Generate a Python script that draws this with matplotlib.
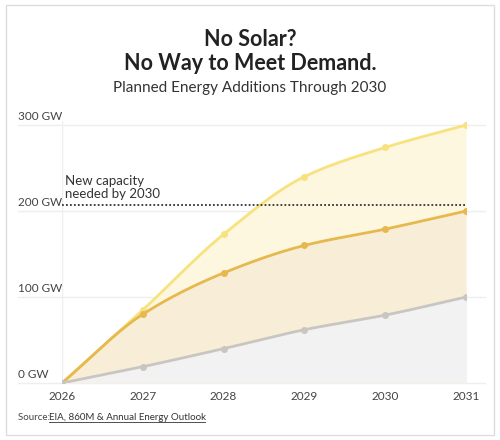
import numpy as np
import matplotlib.pyplot as plt
from matplotlib.patches import Rectangle

years = [2026, 2027, 2028, 2029, 2030, 2031]
with_solar = [0, 85, 173, 240, 274, 300]
mid_series = [0, 80, 128, 160, 179, 200]
base_series = [0, 19, 40, 62, 79, 100]
needed = 207
yticks = [0, 100, 200, 300]


def pchip(x, y, n=200):
    # monotone cubic for smooth lines through the points
    x = np.asarray(x, float); y = np.asarray(y, float)
    h = np.diff(x); d = np.diff(y) / h
    m = np.zeros_like(y)
    for i in range(1, len(x) - 1):
        if d[i - 1] * d[i] > 0:
            w1 = 2 * h[i] + h[i - 1]; w2 = h[i] + 2 * h[i - 1]
            m[i] = (w1 + w2) / (w1 / d[i - 1] + w2 / d[i])
    m[0] = d[0]; m[-1] = d[-1]
    xs = np.linspace(x[0], x[-1], n)
    idx = np.clip(np.searchsorted(x, xs) - 1, 0, len(x) - 2)
    t = (xs - x[idx]) / h[idx]
    h00 = 2*t**3 - 3*t**2 + 1; h10 = t**3 - 2*t**2 + t
    h01 = -2*t**3 + 3*t**2; h11 = t**3 - t**2
    ys = h00*y[idx] + h10*h[idx]*m[idx] + h01*y[idx+1] + h11*h[idx]*m[idx+1]
    return xs, ys


plt.rcParams['font.family'] = ['Lato', 'DejaVu Sans']
fig = plt.figure(figsize=(5, 4.4), dpi=100)
fig.patches.append(Rectangle((0.012, 0.012), 0.976, 0.976, transform=fig.transFigure,
                             fill=False, edgecolor='#dddddd', linewidth=1))
ax = fig.add_axes([0.124, 0.1295, 0.808, 0.596])

series = [(with_solar, '#f7e27e', '#fdf7e0'),
          (mid_series, '#e6b84e', '#f8eed8'),
          (base_series, '#c9c6c2', '#f2f2f2')]
for vals, lc, fc in series:
    xs, ys = pchip(years, vals)
    ax.fill_between(xs, 0, ys, color=fc, linewidth=0)
for vals, lc, fc in series:
    xs, ys = pchip(years, vals)
    ax.plot(xs, ys, color=lc, linewidth=2)
    ax.plot(years, vals, 'o', color=lc, markersize=4)

for v in yticks:
    ax.axhline(v, xmin=-0.109, xmax=1.047, color='#eeeeee', linewidth=1, clip_on=False, zorder=0)
    ax.text(-0.109, v + 4, f'{v} GW', transform=ax.get_yaxis_transform(),
            fontsize=8.5, color='#444444', va='bottom', ha='left')
ax.axhline(needed, xmin=0, xmax=1.0, color='#333333', linewidth=1.3,
           linestyle=(0, (1, 1.2)), clip_on=False)
ax.text(2026.04, needed + 6, 'New capacity\nneeded by 2030', fontsize=9.5,
        color='#333333', va='bottom', linespacing=1.1)

ax.set_xlim(2026, 2031)
ax.set_ylim(0, 305)
ax.set_xticks(years)
ax.set_xticklabels([str(y) for y in years], fontsize=8.5, color='#444444')
ax.set_yticks([])
ax.tick_params(axis='x', length=0, pad=6)
for s in ax.spines.values():
    s.set_visible(False)
ax.axvline(2026, color='#eeeeee', linewidth=1, zorder=0)

fig.text(0.5, 0.935, 'No Solar?\nNo Way to Meet Demand.', ha='center', va='top',
         fontsize=15.5, fontweight='bold', color='#222222', linespacing=1.2)
fig.text(0.5, 0.815, 'Planned Energy Additions Through 2030', ha='center', va='top',
         fontsize=11, color='#333333')
fig.text(0.036, 0.045, 'Source: ', fontsize=7, color='#444444')
fig.text(0.098, 0.045, 'EIA, 860M & Annual Energy Outlook', fontsize=7, color='#333333')
fig.lines.append(plt.Line2D([0.098, 0.41], [0.04, 0.04], transform=fig.transFigure,
                            color='#333333', linewidth=0.6))

fig.savefig('out.png', dpi=100, facecolor='white')
